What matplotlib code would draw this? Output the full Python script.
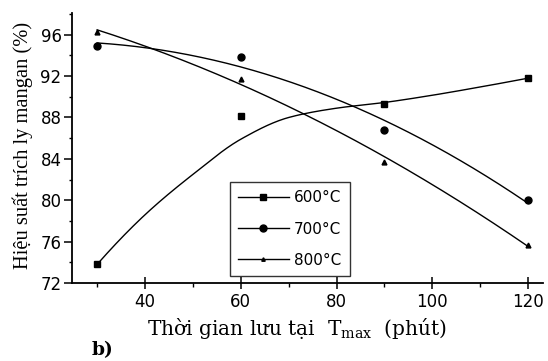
import numpy as np
import matplotlib
matplotlib.use("Agg")
import matplotlib.pyplot as plt
from matplotlib.lines import Line2D
from matplotlib.ticker import MultipleLocator, FixedLocator

# ---- data ----
time_min = [30, 60, 90, 120]
eff_600 = [73.8, 88.1, 89.3, 91.8]
eff_700 = [94.9, 93.8, 86.8, 80.0]
eff_800 = [96.3, 91.7, 83.7, 75.7]
# smoothed trend curve of the 600 °C series
trend_600_x = [30, 40, 50, 60, 70, 80, 90, 100, 110, 120]
trend_600_y = [73.8, 78.6, 82.5, 85.9, 88.0, 88.9, 89.45, 90.15, 90.95, 91.8]
labels = ["600°C", "700°C", "800°C"]
x_ticks = [40, 60, 80, 100, 120]
y_ticks = [72, 76, 80, 84, 88, 92, 96]


def pchip(xk, yk, xs):
    xk = np.asarray(xk, float); yk = np.asarray(yk, float); xs = np.asarray(xs, float)
    h = np.diff(xk); dl = np.diff(yk) / h
    n = len(xk); d = np.zeros(n)
    for i in range(1, n - 1):
        if dl[i - 1] * dl[i] > 0:
            w1 = 2 * h[i] + h[i - 1]; w2 = h[i] + 2 * h[i - 1]
            d[i] = (w1 + w2) / (w1 / dl[i - 1] + w2 / dl[i])
    d[0] = ((2 * h[0] + h[1]) * dl[0] - h[0] * dl[1]) / (h[0] + h[1])
    if d[0] * dl[0] <= 0:
        d[0] = 0
    d[-1] = ((2 * h[-1] + h[-2]) * dl[-1] - h[-1] * dl[-2]) / (h[-1] + h[-2])
    if d[-1] * dl[-1] <= 0:
        d[-1] = 0
    idx = np.clip(np.searchsorted(xk, xs) - 1, 0, n - 2)
    t = (xs - xk[idx]) / h[idx]
    h00 = 2 * t ** 3 - 3 * t ** 2 + 1; h10 = t ** 3 - 2 * t ** 2 + t
    h01 = -2 * t ** 3 + 3 * t ** 2; h11 = t ** 3 - t ** 2
    return (h00 * yk[idx] + h10 * h[idx] * d[idx]
            + h01 * yk[idx + 1] + h11 * h[idx] * d[idx + 1])


plt.rcParams['font.family'] = ['DejaVu Sans']

fig = plt.figure(figsize=(5.48, 3.61), dpi=100)
ax = fig.add_axes([72 / 548, 1 - 283 / 361, (543 - 72) / 548, (283 - 13) / 361])

xs = np.linspace(30, 120, 300)
ax.plot(xs, pchip(trend_600_x, trend_600_y, xs), color='black', lw=1.0)
ax.plot(xs, np.polyval(np.polyfit(time_min, eff_700, 2), xs), color='black', lw=1.0)
ax.plot(xs, np.polyval(np.polyfit(time_min, eff_800, 2), xs), color='black', lw=1.0)

ax.plot(time_min, eff_600, 's', color='black', ms=5, ls='none')
ax.plot(time_min, eff_700, 'o', color='black', ms=5, ls='none')
ax.plot(time_min, eff_800, '^', color='black', ms=3.5, ls='none')

ax.set_xlim(24.75, 123.1)
ax.set_ylim(72, 98.1)
ax.xaxis.set_major_locator(FixedLocator(x_ticks))
ax.xaxis.set_minor_locator(FixedLocator([30, 50, 70, 90, 110]))
ax.yaxis.set_major_locator(FixedLocator(y_ticks))
ax.yaxis.set_minor_locator(MultipleLocator(2))

for s in ['top', 'right']:
    ax.spines[s].set_visible(False)
for s in ['left', 'bottom']:
    ax.spines[s].set_linewidth(1.3)

ax.tick_params(axis='x', which='major', direction='inout', length=8, width=1.1, pad=3,
               labelsize=12)
ax.tick_params(axis='x', which='minor', direction='out', length=3, width=1.0)
ax.tick_params(axis='y', which='major', direction='out', length=6, width=1.1, pad=1.5,
               labelsize=12)
ax.tick_params(axis='y', which='minor', direction='out', length=2.5, width=1.0)

ax.set_ylabel("Hiệu suất trích ly mangan (%)", family=['Liberation Serif', 'DejaVu Serif'],
              fontsize=14.8)
ax.yaxis.set_label_coords(-0.082, 0.511)
ax.set_xlabel("Thời gian lưu tại  T$_{\\mathregular{max}}$  (phút)",
              family=['DejaVu Serif'], fontsize=14.5)
ax.xaxis.set_label_coords(0.478, -0.167)
ax.xaxis.label.set_va('center')

handles = [Line2D([], [], color='black', lw=1.0, marker='s', ms=5),
           Line2D([], [], color='black', lw=1.0, marker='o', ms=5),
           Line2D([], [], color='black', lw=1.0, marker='^', ms=2.5)]
leg = ax.legend(handles, labels, loc='lower left', bbox_to_anchor=(0.335, 0.026),
                fontsize=11, frameon=True, fancybox=False, edgecolor='black',
                handlelength=3.3, handletextpad=0.35, labelspacing=1.05,
                borderpad=0.55, borderaxespad=0)
leg.get_frame().set_linewidth(1.0)

fig.text(92 / 548, 1 - 355 / 361, "b)", family=['DejaVu Serif'],
         fontsize=13.5, fontweight='bold', va='baseline')

fig.savefig("out.png", dpi=100)
